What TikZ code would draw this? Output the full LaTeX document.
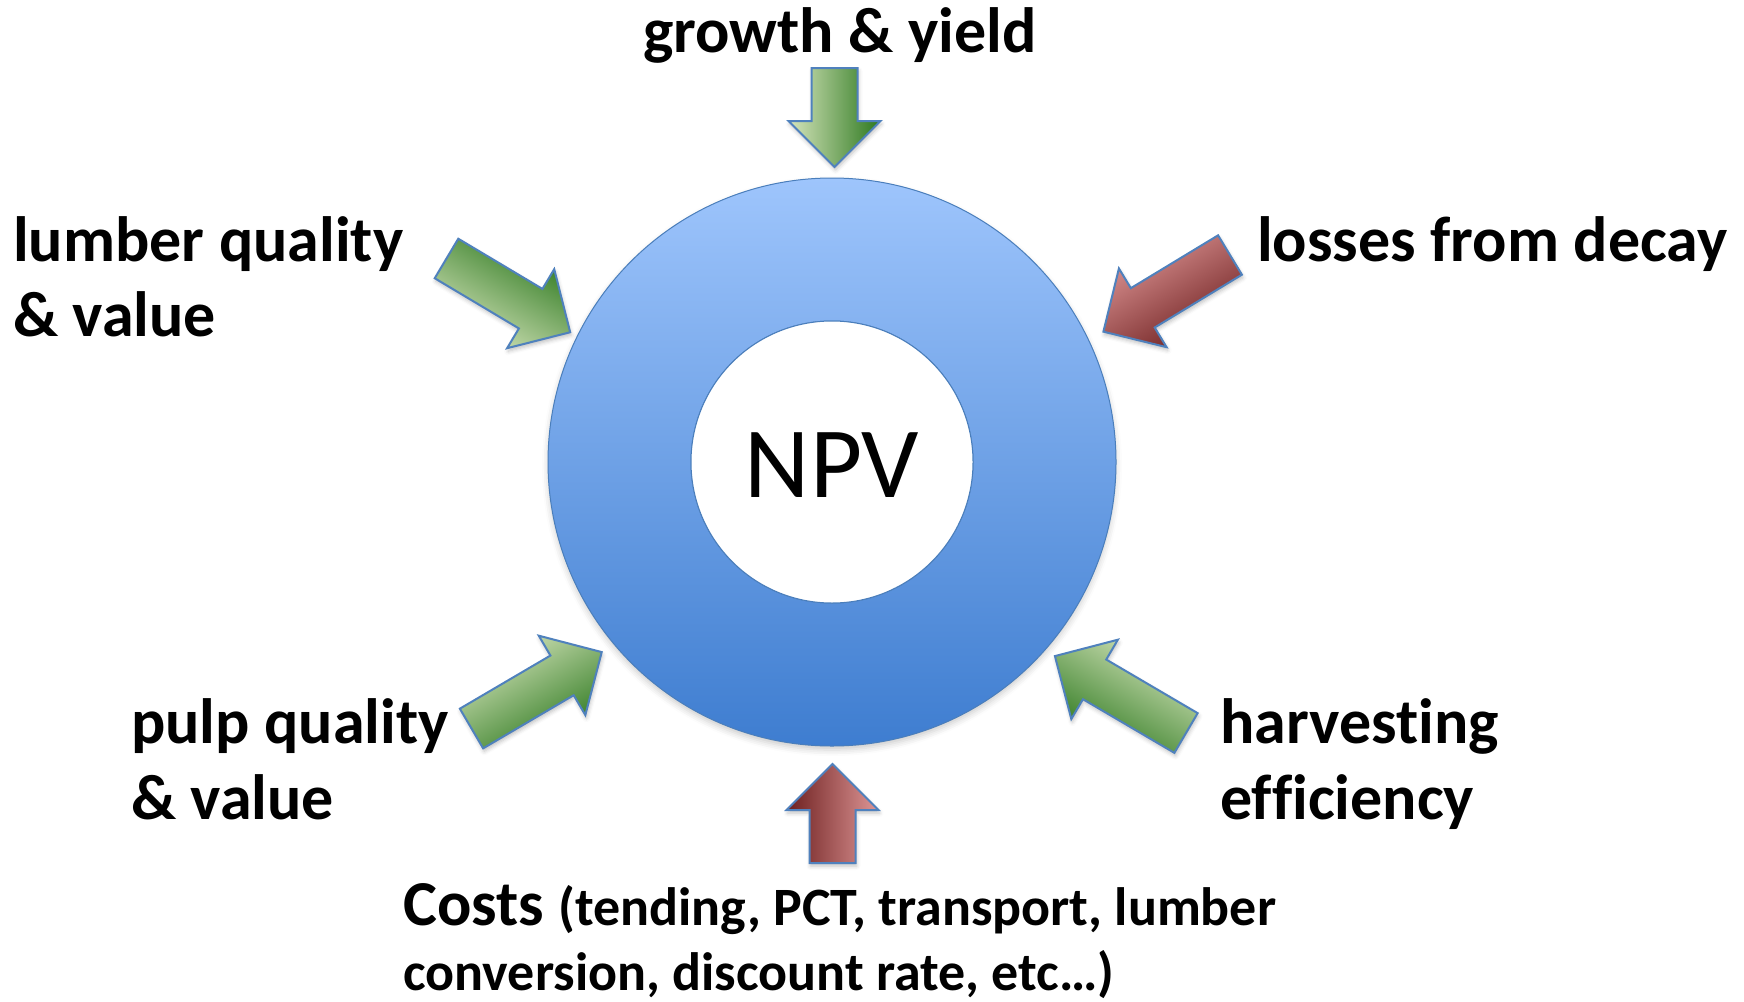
\documentclass[tikz,border=0pt]{standalone}
\usepackage{fontspec}
\setmainfont{Carlito}[Ligatures=NoCommon]
\usetikzlibrary{shadows.blur}

\definecolor{gLight}{RGB}{214,229,188}
\definecolor{gMid}{RGB}{155,187,98}
\definecolor{gDark}{RGB}{44,120,30}
\definecolor{rLight}{RGB}{222,150,150}
\definecolor{rMid}{RGB}{152,48,48}
\definecolor{rDark}{RGB}{108,30,30}
\definecolor{ringTop}{RGB}{158,197,252}
\definecolor{ringBot}{RGB}{62,125,208}
\definecolor{ringEdge}{RGB}{74,126,187}
\definecolor{arrowEdge}{RGB}{79,129,189}

\tikzset{
  lbl/.style={font=\fontsize{64}{70}\selectfont\bfseries, inner sep=0pt, anchor=base west},
  small/.style={font=\fontsize{54}{60}\selectfont\bfseries},
  blockbody/.style={draw=arrowEdge, line width=2pt, line join=miter,
    blur shadow={shadow xshift=1pt, shadow yshift=-3pt, shadow blur radius=4pt, shadow opacity=25}},
  % the dark end of the gradient lies at (shading angle - 90) on the page
  greenup/.style={blockbody, left color=gLight, middle color=gMid, right color=gDark},
  redup/.style={blockbody, left color=rLight, middle color=rMid, right color=rDark},
}

% block arrow: tail centre x, tail centre y, direction, length, style
\newcommand\blockarrow[5]{%
  \begin{scope}[shift={(#1,#2)}, rotate=#3]
    \path[#5] (0,-23) -- ({#4-46},-23) -- ({#4-46},-46) -- (#4,0)
      -- ({#4-46},46) -- ({#4-46},23) -- (0,23) -- cycle;
  \end{scope}}

\begin{document}
\begin{tikzpicture}[x=1pt,y=-1pt]
\useasboundingbox (0,0) rectangle (1744,1001);

% the ring
\path[blur shadow={shadow xshift=0pt, shadow yshift=-4pt, shadow blur radius=6pt, shadow opacity=20},
      top color=ringTop, bottom color=ringBot, draw=ringEdge, line width=1pt, even odd rule]
  (832,462) circle[radius=284] (832,462) circle[radius=141];
\path[fill=white, draw=ringEdge, line width=1pt] (832,462) circle[radius=141];
\node[inner sep=0pt, anchor=base, font=\fontsize{101}{110}\selectfont] (npv) at (832,497) {NPV};

% arrows pointing at the ring
\blockarrow{834.5}{68}{-90}{99}{greenup, shading angle=90}
\blockarrow{832.5}{863}{90}{99}{redup, shading angle=270}
\blockarrow{446.5}{258.5}{-30.8}{144}{greenup, shading angle=149.2}
\blockarrow{1230}{255}{211.2}{148}{redup, shading angle=31.2}
\blockarrow{471.5}{728.5}{30.4}{151}{greenup, shading angle=30.4}
\blockarrow{1186}{733}{149.6}{152}{greenup, shading angle=329.6}

% labels
\node[lbl] (growth) at (643,52) {growth \& yield};
\node[lbl] (lumber1) at (13,261) {lumber quality};
\node[lbl] (lumber2) at (13,336) {\& value};
\node[lbl] (losses) at (1257,261) {losses from decay};
\node[lbl] (pulp1) at (131,743) {pulp quality};
\node[lbl] (pulp2) at (131,819) {\& value};
\node[lbl] (harv1) at (1220,743) {harvesting};
\node[lbl] (harv2) at (1220,819) {efficiency};
\node[lbl] (costs1) at (403,925) {Costs {\fontsize{54}{60}\selectfont (tending, PCT, transport, lumber}};
\node[lbl, small] (costs2) at (403,990) {conversion, discount rate, etc…)};
\end{tikzpicture}
\end{document}
